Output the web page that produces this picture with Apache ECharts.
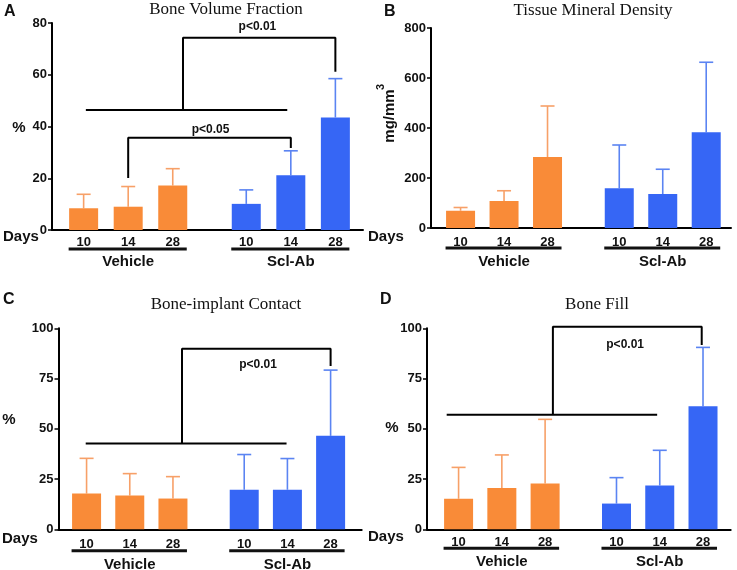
<!DOCTYPE html>
<html>
<head>
<meta charset="utf-8">
<script src="https://cdn.jsdelivr.net/npm/echarts@6/dist/echarts.min.js"></script>
<style>
  html, body { margin: 0; background: #fff; }
  #chart { width: 737px; height: 570px; }
</style>
</head>
<body>
<div id="chart"></div>
<script>
// categories
const days = ['10', '14', '28', '10', '14', '28']
const groups = ['Vehicle', 'Scl-Ab']

// A: bone volume fraction (%), mean and SD
const bvfMean = [8.4, 9.0, 17.2, 10.1, 21.2, 43.5]
const bvfSd = [5.4, 7.8, 6.5, 5.4, 9.4, 15.0]
// B: tissue mineral density (mg/mm3)
const tmdMean = [69, 108, 284, 159, 136, 383]
const tmdSd = [13, 41, 204, 173, 99, 280]
// C: bone-implant contact (%)
const bicMean = [17.8, 16.8, 15.3, 19.7, 19.7, 46.5]
const bicSd = [17.5, 10.9, 10.9, 17.5, 15.5, 32.7]
// D: bone fill (%)
const bfMean = [15.2, 20.5, 22.8, 12.8, 21.8, 61.2]
const bfSd = [15.6, 16.5, 31.9, 12.9, 17.5, 29.3]

// significance brackets, in data units (x = bar slot, y = value)
const bvfBrackets = [
  [[1.05, 46.4], [5.57, 46.4]],
  [[3.23, 46.4], [3.23, 74.3], [6.65, 74.3], [6.65, 61.2]],
  [[2, 20.1], [2, 35.7], [5.65, 35.7], [5.65, 31.7]]
]
const bvfPText = [['p<0.01', 4.9, 78.5], ['p<0.05', 3.85, 38.6]]
const bicBrackets = [
  [[0.98, 42.7], [5.63, 42.7]],
  [[3.21, 42.7], [3.21, 89.8], [6.65, 89.8], [6.65, 81.2]]
]
const bicPText = [['p<0.01', 4.97, 82.1]]
const bfBrackets = [
  [[0.725, 57], [5.59, 57]],
  [[3.18, 57], [3.18, 100.8], [6.62, 100.8], [6.62, 91.7]]
]
const bfPText = [['p<0.01', 4.85, 92]]

const ORANGE = '#F98B38'
const BLUE = '#3666F5'
const ORANGE_ERR = '#F7A068'
const BLUE_ERR = '#5B84F2'
const FONT = 'Liberation Sans, Arial, sans-serif'
const SERIF = 'Liberation Serif, Times New Roman, serif'

// vehicle bars in slots 1..3, Scl-Ab bars after a wider gap
function pos(i) {
  return i + 1 + (i >= 3 ? 0.65 : 0)
}

const panels = [
  {
    mean: bvfMean, sd: bvfSd, brackets: bvfBrackets, pText: bvfPText,
    grid: { left: 52, top: 23, width: 311, height: 207 },
    xMin: 0.29, xMax: 7.27, yMax: 80, yStep: 20, dayMargin: 6,
    title: 'Bone Volume Fraction', titleX: 226, titleY: 10,
    letter: 'A', letterX: 4, letterY: 12,
    yName: '%', yNameX: 19, yNameY: 128,
    daysX: 3, daysY: 237, lineDy: 19, groupDy: 32
  },
  {
    mean: tmdMean, sd: tmdSd, brackets: [], pText: [],
    grid: { left: 431, top: 28, width: 300, height: 200 },
    xMin: 0.32, xMax: 7.22, yMax: 800, yStep: 200, dayMargin: 8,
    title: 'Tissue Mineral Density', titleX: 593, titleY: 11,
    letter: 'B', letterX: 384, letterY: 12,
    yName: 'mg/mm', yNameX: 390, yNameY: 116, yNameRot: true,
    daysX: 368, daysY: 237, lineDy: 20, groupDy: 34
  },
  {
    mean: bicMean, sd: bicSd, brackets: bicBrackets, pText: bicPText,
    grid: { left: 58.5, top: 328.3, width: 303.2, height: 201 },
    xMin: 0.35, xMax: 7.37, yMax: 100, yStep: 25, dayMargin: 9,
    title: 'Bone-implant Contact', titleX: 226, titleY: 305,
    letter: 'C', letterX: 3, letterY: 300,
    yName: '%', yNameX: 9, yNameY: 420,
    daysX: 2, daysY: 539, lineDy: 21.5, groupDy: 36
  },
  {
    mean: bfMean, sd: bfSd, brackets: bfBrackets, pText: bfPText,
    grid: { left: 427, top: 328.3, width: 303.7, height: 201 },
    xMin: 0.27, xMax: 7.29, yMax: 100, yStep: 25, dayMargin: 7,
    title: 'Bone Fill', titleX: 597, titleY: 305,
    letter: 'D', letterX: 380, letterY: 300,
    yName: '%', yNameX: 392, yNameY: 428,
    daysX: 368, daysY: 537, lineDy: 19, groupDy: 33
  }
]

const chart = echarts.init(document.getElementById('chart'), null, { renderer: 'canvas' })

const grid = []
const xAxis = []
const yAxis = []
const series = []

panels.forEach((p, k) => {
  grid.push(Object.assign({ containLabel: false }, p.grid))
  xAxis.push({
    type: 'value', gridIndex: k, min: p.xMin, max: p.xMax,
    splitLine: { show: false },
    axisTick: { show: false },
    axisLine: { onZero: false, lineStyle: { color: '#000', width: 2 } },
    axisLabel: {
      customValues: days.map((d, i) => pos(i)),
      formatter: (v) => {
        const i = days.findIndex((d, j) => Math.abs(pos(j) - v) < 0.01)
        return i >= 0 ? days[i] : ''
      },
      margin: p.dayMargin,
      color: '#111', fontFamily: FONT, fontWeight: 'bold', fontSize: 13
    }
  })
  yAxis.push({
    type: 'value', gridIndex: k, min: 0, max: p.yMax, interval: p.yStep,
    splitLine: { show: false },
    axisLine: { show: true, lineStyle: { color: '#000', width: 2 } },
    axisTick: { show: true, length: 4, lineStyle: { color: '#000', width: 1.5 } },
    axisLabel: { margin: 5, color: '#111', fontFamily: FONT, fontWeight: 'bold', fontSize: 13 }
  })

  series.push({
    type: 'bar', xAxisIndex: k, yAxisIndex: k, barWidth: 29,
    silent: true,
    data: p.mean.map((m, i) => ({
      value: [pos(i), m],
      itemStyle: { color: i < 3 ? ORANGE : BLUE }
    }))
  })

  series.push({
    type: 'custom', xAxisIndex: k, yAxisIndex: k, silent: true, clip: false, z: 1,
    data: p.mean.map((m, i) => [pos(i), m, m + p.sd[i], i]),
    renderItem: (params, api) => {
      const base = api.coord([api.value(0), api.value(1)])
      const top = api.coord([api.value(0), api.value(2)])
      const color = api.value(3) < 3 ? ORANGE_ERR : BLUE_ERR
      const style = { stroke: color, lineWidth: 1.6 }
      return {
        type: 'group',
        children: [
          { type: 'line', shape: { x1: base[0], y1: base[1], x2: top[0], y2: top[1] }, style },
          { type: 'line', shape: { x1: top[0] - 7, y1: top[1], x2: top[0] + 7, y2: top[1] }, style }
        ]
      }
    }
  })

  p.brackets.forEach((b) => {
    series.push({
      type: 'line', xAxisIndex: k, yAxisIndex: k, data: b,
      symbol: 'none', silent: true, clip: false, z: 5,
      lineStyle: { color: '#000', width: 2 }
    })
  })
})

chart.setOption({
  animation: false,
  backgroundColor: '#fff',
  grid, xAxis, yAxis, series
})

// text and group underlines, placed from the axes
const graphic = []
function txt(text, x, y, opts) {
  graphic.push({
    type: 'text', x, y, silent: true,
    rotation: opts.rotation || 0,
    style: {
      text, fill: '#111', font: opts.font,
      align: opts.align || 'center', verticalAlign: opts.va || 'middle'
    }
  })
}

panels.forEach((p, k) => {
  const finder = { xAxisIndex: k, yAxisIndex: k }
  txt(p.title, p.titleX, p.titleY, { font: '17px ' + SERIF })
  txt(p.letter, p.letterX, p.letterY, { font: 'bold 16px ' + FONT, align: 'left' })
  if (p.yNameRot) {
    txt(p.yName, p.yNameX, p.yNameY, { font: 'bold 15px ' + FONT, rotation: Math.PI / 2 })
    txt('3', p.yNameX - 9, p.yNameY - 29, { font: 'bold 11px ' + FONT, rotation: Math.PI / 2 })
  } else {
    txt(p.yName, p.yNameX, p.yNameY, { font: 'bold 15px ' + FONT })
  }
  txt('Days', p.daysX, p.daysY, { font: 'bold 15px ' + FONT, align: 'left' })

  const axisY = chart.convertToPixel(finder, [p.xMin, 0])[1]
  groups.forEach((g, gi) => {
    const a = chart.convertToPixel(finder, [pos(gi * 3), 0])[0]
    const b = chart.convertToPixel(finder, [pos(gi * 3 + 2), 0])[0]
    graphic.push({
      type: 'line', silent: true,
      shape: { x1: a - 15, y1: axisY + p.lineDy, x2: b + 14, y2: axisY + p.lineDy },
      style: { stroke: '#111', lineWidth: 3 }
    })
    txt(g, (a + b) / 2, axisY + p.groupDy, { font: 'bold 15px ' + FONT })
  })

  p.pText.forEach(([t, x, y]) => {
    const c = chart.convertToPixel(finder, [x, y])
    txt(t, c[0], c[1], { font: 'bold 12px ' + FONT })
  })
})

chart.setOption({ graphic })
</script>
</body>
</html>
